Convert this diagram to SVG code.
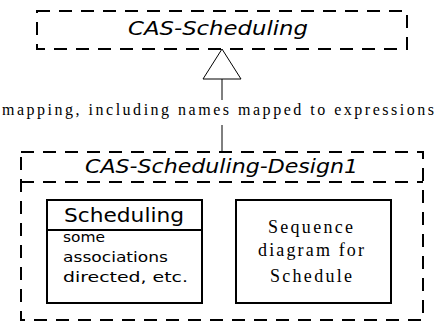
<svg xmlns="http://www.w3.org/2000/svg" width="435" height="323" viewBox="0 0 435 323">
<style>
.pkg{fill:none;stroke:#000;stroke-width:2;stroke-dasharray:13 9}
.box{fill:#fff;stroke:#000;stroke-width:2}
.ln{fill:none;stroke:#000;stroke-width:1}
.comic{font-family:"DejaVu Sans",sans-serif;fill:#000}
.it{font-style:italic}
.serif{font-family:"Liberation Serif","Times New Roman",serif;fill:#000}
</style>
<rect width="435" height="323" fill="#fff"/>
<g id="cas-scheduling">
<rect class="pkg" x="37" y="11" width="370" height="38"/>
<text class="comic it" x="128" y="35" font-size="19" textLength="180" lengthAdjust="spacingAndGlyphs">CAS-Scheduling</text>
</g>
<g id="cas-scheduling-design1">
<rect class="pkg" x="21" y="152" width="402" height="168"/>
<line class="pkg" x1="21" y1="182" x2="423" y2="182"/>
<text class="comic it" x="85" y="173" font-size="19" textLength="273" lengthAdjust="spacingAndGlyphs">CAS-Scheduling-Design1</text>
</g>
<g id="scheduling">
<rect class="box" x="47" y="200" width="155" height="103"/>
<line class="box" x1="47" y1="230" x2="202" y2="230"/>
<text class="comic" x="64" y="222" font-size="20" textLength="120" lengthAdjust="spacingAndGlyphs">Scheduling</text>
<text class="comic" x="63" y="242" font-size="14" textLength="42" lengthAdjust="spacingAndGlyphs">some</text>
<text class="comic" x="63" y="262" font-size="14" textLength="105" lengthAdjust="spacingAndGlyphs">associations</text>
<text class="comic" x="63" y="282" font-size="14" textLength="125" lengthAdjust="spacingAndGlyphs">directed, etc.</text>
</g>
<g id="sequence-diagram">
<rect class="box" x="236" y="200" width="155" height="103"/>
<text class="serif" x="268" y="233" font-size="18" textLength="85" lengthAdjust="spacing">Sequence</text>
<text class="serif" x="258" y="256" font-size="18" textLength="106" lengthAdjust="spacing">diagram for</text>
<text class="serif" x="270" y="282" font-size="18" textLength="82" lengthAdjust="spacing">Schedule</text>
</g>
<g id="connectors">
<polygon class="ln" fill="#fff" points="222,49 203,79 241,79" style="fill:#fff"/>
<line class="ln" x1="222" y1="79" x2="222" y2="100"/>
<line class="ln" x1="222" y1="125" x2="222" y2="152"/>
<text class="serif" x="2" y="115" font-size="16" textLength="432" lengthAdjust="spacing">mapping, including names mapped to expressions</text>
</g>
</svg>
